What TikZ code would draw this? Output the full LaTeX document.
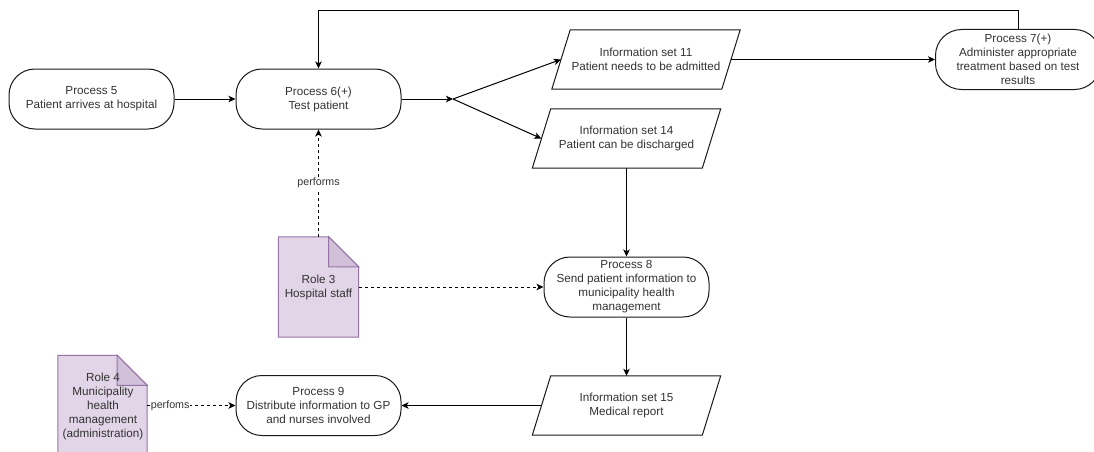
\documentclass[tikz,border=0pt]{standalone}
\usepackage{fontspec}
\setmainfont{Liberation Sans}
\usetikzlibrary{arrows.meta,calc}

\definecolor{notefill}{HTML}{E1D5E7}
\definecolor{notedraw}{HTML}{9673A6}
\definecolor{foldfill}{HTML}{D0C1D8}
\definecolor{inktext}{HTML}{333333}

\tikzset{
  txt/.style={align=center, text=inktext, inner sep=0pt,
    font=\fontsize{11.7}{14}\selectfont},
  proc/.style={txt, draw=black!90, line width=1pt, fill=white,
    rounded corners=26pt, minimum width=165pt, minimum height=60pt},
  info/.style={txt, minimum width=188pt, minimum height=59pt},
  infoshape/.style={draw=black!90, line width=1pt, fill=white},
  rolebox/.style={minimum width=#1, minimum height=100pt, inner sep=0pt},
  notebody/.style={fill=notefill, draw=notedraw, line width=1pt, line join=miter},
  notefold/.style={fill=foldfill, draw=notedraw, line width=1pt},
  arr/.style={draw=black, line width=1pt,
    -{Stealth[length=7pt,width=6.5pt,inset=1.8pt]}},
  dasharr/.style={arr, dash pattern=on 3pt off 3pt},
  lbl/.style={fill=white, text=inktext, inner sep=1pt,
    font=\fontsize{10.7}{12}\selectfont},
}

% parallelogram data shape around an invisible node
\newcommand\infoframe[1]{%
  \draw[infoshape] (#1.south west) -- ++(170,0) -- (#1.north east)
    -- ++(-170,0) -- cycle;
  \coordinate (#1w) at ($(#1.west)+(9,0)$);
  \coordinate (#1e) at ($(#1.east)+(-9,0)$);
}
% folded-corner note around an invisible node
\newcommand\noteframe[1]{%
  \draw[notebody] (#1.south west) -- (#1.north west)
    -- ($(#1.north east)+(-30,0)$) -- ($(#1.north east)+(0,30)$)
    -- (#1.south east) -- cycle;
  \draw[notefold] ($(#1.north east)+(-30,0)$) -- ($(#1.north east)+(-30,30)$)
    -- ($(#1.north east)+(0,30)$) -- cycle;
}

\begin{document}
\begin{tikzpicture}[x=1pt, y=-1pt]
\useasboundingbox (0,0) rectangle (1094,452);
\clip (0,0) rectangle (1094,452);

% processes
\node[proc] (p5) at (91.5,99) {Process 5\\Patient arrives at hospital};
\node[proc] (p6) at (318.5,99) {Process 6(+)\\Test patient};
\node[proc] (p7) at (1018,59.5) {Process 7(+)\\Administer appropriate\\treatment based on test\\results};
\node[proc] (p8) at (626.5,287) {Process 8\\Send patient information to\\municipality health\\management};
\node[proc] (p9) at (318.5,405.5) {Process 9\\Distribute information to GP\\and nurses involved};

% information sets
\node[info] (is11) at (646,59.5) {};
\infoframe{is11}
\node[txt] at (is11) {Information set 11\\Patient needs to be admitted};
\node[info] (is14) at (626.5,138.5) {};
\infoframe{is14}
\node[txt] at (is14) {Information set 14\\Patient can be discharged};
\node[info] (is15) at (626.5,405.5) {};
\infoframe{is15}
\node[txt] at (is15) {Information set 15\\Medical report};

% roles
\node[rolebox=80pt] (r3) at (318.5,287) {};
\noteframe{r3}
\node[txt] at (r3) {Role 3\\Hospital staff};
\node[rolebox=89pt] (r4) at (102.5,405.5) {};
\noteframe{r4}
\node[txt] at ($(r4)+(0.5,1)$) {Role 4\\Municipality\\health\\management\\(administration)};

% flow
\coordinate (fork) at (453,99);
\draw[arr] (p5) -- (p6);
\draw[arr] (p6.east) -- (fork);
\draw[arr] (fork) -- (is11w);
\draw[arr] (fork) -- (is14w);
\draw[arr] (is11e) -- (p7.west);
\draw[arr] (p7.north) -- ++(0,-18) -| (p6.north);
\draw[arr] (is14.south) -- (p8.north);
\draw[arr] (p8.south) -- (is15.north);
\draw[arr] (is15w) -- (p9.east);

% role links
\draw[dasharr] (r3.north) -- node[lbl] {performs} (p6.south);
\draw[dasharr] (r3.east) -- (p8.west);
\draw[dasharr] (r4.east) -- node[lbl, pos=0.26] {perfoms} (p9.west);
\end{tikzpicture}
\end{document}
